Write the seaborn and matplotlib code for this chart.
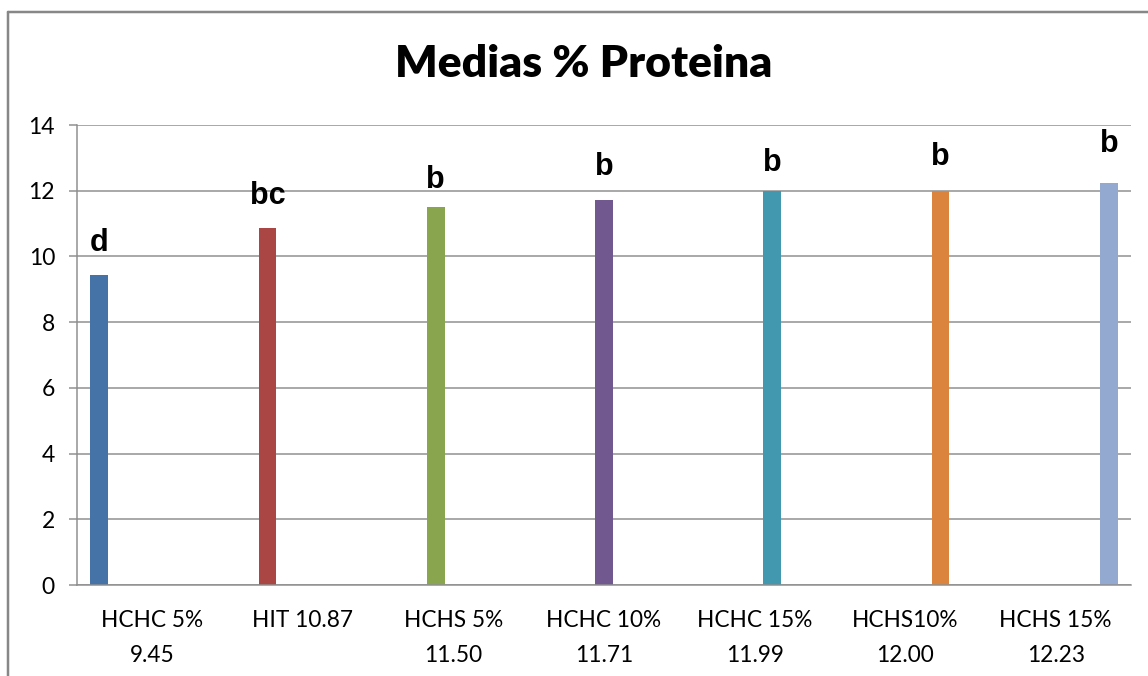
import matplotlib
matplotlib.use("Agg")
import matplotlib.pyplot as plt
import seaborn as sns
import pandas as pd
from matplotlib.lines import Line2D
from matplotlib.ticker import FixedLocator, MultipleLocator

# Treatments, mean protein (%) and significance letters
tratamientos = ["HCHC 5%", "HIT", "HCHS 5%", "HCHC 10%", "HCHC 15%", "HCHS10%", "HCHS 15%"]
proteina = [9.45, 10.87, 11.50, 11.71, 11.99, 12.00, 12.23]
letras = ["d", "bc", "b", "b", "b", "b", "b"]
etiquetas_x = ["HCHC 5%\n9.45", "HIT 10.87", "HCHS 5%\n11.50", "HCHC 10%\n11.71",
               "HCHC 15%\n11.99", "HCHS10%\n12.00", "HCHS 15%\n12.23"]
colores = ["#4572A7", "#AA4643", "#89A54E", "#71588F", "#4198AF", "#DB843D", "#93A9CF"]

# gap (pixels) between each bar top and its letter baseline
sep_letras_px = [23.5, 24, 19, 25, 20, 26, 31]

sns.set_style("white")
plt.rcParams["font.family"] = ["Lato", "DejaVu Sans"]
plt.rcParams["text.color"] = "black"

W, H, DPI = 1148, 676, 100
PX = 72 / DPI  # points per pixel
fig = plt.figure(figsize=(W / DPI, H / DPI), dpi=DPI)
ax = fig.add_axes([77 / W, 1 - 585 / H, (1131 - 77) / W, (585 - 125) / H])

df = pd.DataFrame({"tratamiento": tratamientos, "proteina": proteina})
sns.barplot(data=df, x="tratamiento", y="proteina", hue="tratamiento",
            order=tratamientos, hue_order=tratamientos, palette=colores,
            dodge=True, width=0.824, saturation=1, linewidth=0,
            errorbar=None, legend=False, ax=ax)

gris = "#8e8e8e"
ax.set_ylim(0, 14)
ax.set_xlim(-0.5, len(tratamientos) - 0.5)
ax.yaxis.set_major_locator(MultipleLocator(2))
ax.grid(axis="y", color=gris, linewidth=1.5 * PX, zorder=0)
ax.set_axisbelow(True)
for s in ["top", "right"]:
    ax.spines[s].set_visible(False)
for s in ["left", "bottom"]:
    ax.spines[s].set_color(gris)
    ax.spines[s].set_linewidth(1.5 * PX)

ax.set_xlabel("")
ax.set_ylabel("")
ax.set_xticks(range(len(tratamientos)))
ax.set_xticklabels(etiquetas_x, fontsize=16.3, linespacing=1.85, va="top", color="black")
ax.xaxis.set_minor_locator(FixedLocator([i - 0.5 for i in range(len(tratamientos) + 1)]))
ax.tick_params(axis="x", which="major", length=0, pad=25 * PX)
ax.tick_params(axis="x", which="minor", length=7 * PX, width=1.5 * PX, color=gris, direction="out")
ax.tick_params(axis="y", which="major", length=8 * PX, width=1.5 * PX, color=gris,
               direction="out", pad=14 * PX, labelsize=16.5, labelcolor="black", left=True)

# significance letters above each bar
barras = sorted(ax.patches, key=lambda p: p.get_x())
for barra, letra, sep in zip(barras, letras, sep_letras_px):
    xc = barra.get_x() + barra.get_width() / 2
    ax.annotate(letra, (xc, barra.get_height()), xytext=(0, sep * PX),
                textcoords="offset points", ha="center", va="baseline", color="black",
                fontsize=22, fontweight="bold", family=["Liberation Sans", "DejaVu Sans"])

fig.text(584 / W, 1 - 64 / H, "Medias % Proteina", ha="center", va="center",
         fontsize=32, fontweight="heavy", color="black")

# chart frame
xb, yb = 8 / W, 1 - 12 / H
fig.add_artist(Line2D([xb, xb], [0, yb], color="#878787", linewidth=2.5 * PX))
fig.add_artist(Line2D([xb, 1], [yb, yb], color="#878787", linewidth=2.5 * PX))

fig.savefig("out.png", dpi=DPI)
